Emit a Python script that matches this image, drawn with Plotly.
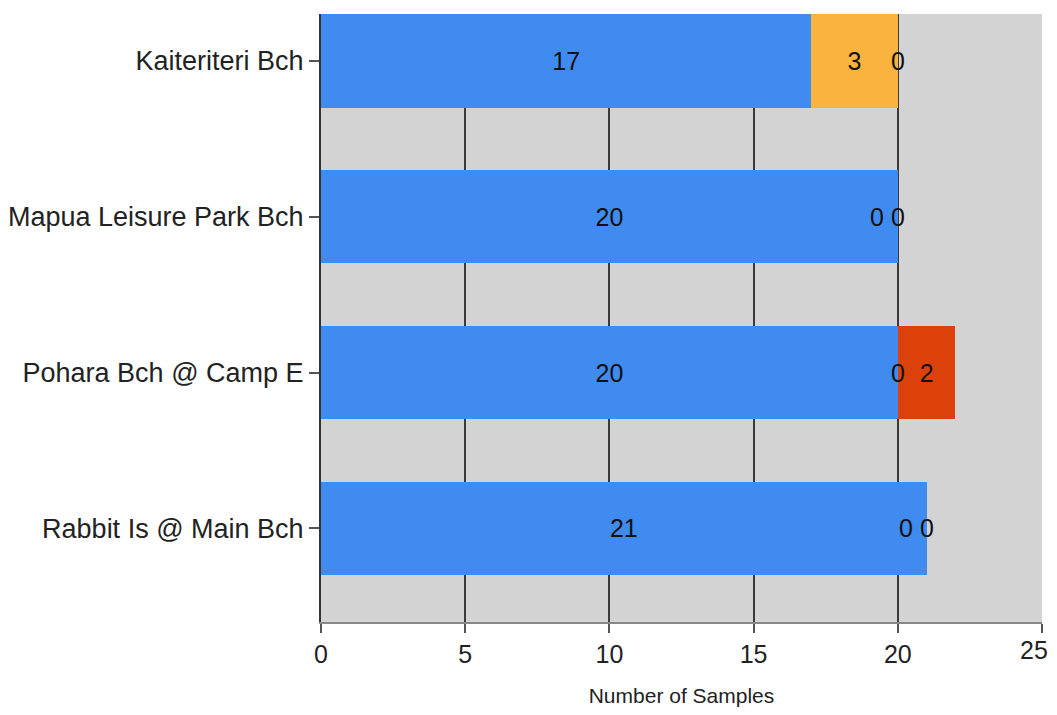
import plotly.graph_objects as go

categories = ["Kaiteriteri Bch", "Mapua Leisure Park Bch", "Pohara Bch @ Camp E", "Rabbit Is @ Main Bch"]
green_vals = [17, 20, 20, 21]
amber_vals = [3, 0, 0, 0]
red_vals = [0, 0, 2, 0]
x_ticks = [0, 5, 10, 15, 20, 25]

colors = ["#3F8BEF", "#FBB33F", "#DD410B"]
series = [green_vals, amber_vals, red_vals]
FONT = "Liberation Sans, Arial"

fig = go.Figure()
for vals, col in zip(series, colors):
    fig.add_trace(go.Bar(
        y=categories, x=vals, orientation="h", marker=dict(color=col, line=dict(width=0)),
        width=0.6,
        text=[str(v) if v != 0 else "" for v in vals],
        textposition="inside", insidetextanchor="middle", textangle=0,
        insidetextfont=dict(color="#111", size=25, family=FONT),
        constraintext="none", showlegend=False, hoverinfo="skip",
    ))

# zero-value labels at the stacked position
for i, cat in enumerate(categories):
    base_amber = green_vals[i]
    base_red = green_vals[i] + amber_vals[i]
    both_zero = amber_vals[i] == 0 and red_vals[i] == 0
    if amber_vals[i] == 0:
        fig.add_annotation(x=base_amber, y=cat, text="0", showarrow=False,
                           xshift=-21 if both_zero else 0,
                           font=dict(color="#111", size=25, family=FONT))
    if red_vals[i] == 0:
        fig.add_annotation(x=base_red, y=cat, text="0", showarrow=False,
                           xshift=0,
                           font=dict(color="#111", size=25, family=FONT))

# last x tick label nudged left so it stays inside the page
tick_text = [str(t) for t in x_ticks[:-1]] + [""]
fig.add_annotation(x=x_ticks[-1], xref="x", y=0, yref="paper", yanchor="top",
                   text=str(x_ticks[-1]), showarrow=False, xshift=-8, yshift=-12,
                   font=dict(color="#222", size=25, family=FONT))

fig.update_layout(
    barmode="stack",
    width=1049, height=699,
    margin=dict(l=313, r=15, t=6, b=85),
    paper_bgcolor="white", plot_bgcolor="#D3D3D3",
    font=dict(family=FONT, color="#222"),
    xaxis=dict(range=[0, 25], tickvals=x_ticks, ticktext=tick_text, showgrid=True,
               gridcolor="#3a3a3a", gridwidth=2,
               zeroline=False, showline=True, linecolor="#888", linewidth=2,
               ticks="outside", ticklen=9, tickcolor="#555", tickwidth=2,
               tickfont=dict(size=25, color="#222"), automargin=False,
               ticklabeloverflow="allow",
               title=dict(text="Number of Samples", font=dict(size=21, color="#222"), standoff=36)),
    yaxis=dict(categoryorder="array", categoryarray=categories, range=[3.6, -0.3],
               showgrid=False, zeroline=False, showline=True, linecolor="#333", linewidth=2,
               ticks="outside", ticklen=10, tickcolor="#555", tickwidth=2, automargin=False,
               tickfont=dict(size=27, color="#222")),
)

fig.write_html("out.html")
